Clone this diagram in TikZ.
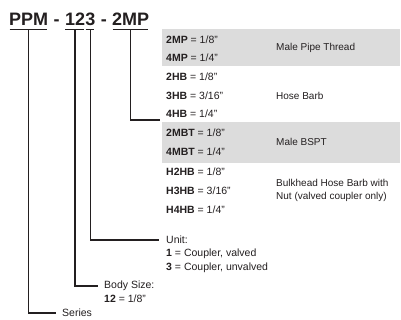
\documentclass[tikz,border=0pt]{standalone}
\usepackage{fontspec}
\setmainfont{Liberation Sans}
\usetikzlibrary{calc}
\definecolor{txt}{HTML}{231F20}
\definecolor{gbox}{HTML}{DCDCDC}
\begin{document}
\begin{tikzpicture}[x=1pt,y=-1pt,
  title/.style={font=\fontsize{18}{18}\selectfont\bfseries, text=txt, inner sep=0pt, anchor=base west},
  cell/.style={font=\fontsize{10.5}{12}\selectfont, text=txt, inner sep=0pt, anchor=west},
  desc/.style={font=\fontsize{10}{13}\selectfont, text=txt, inner sep=0pt, anchor=west, align=left},
  conn/.style={line width=1.4pt, draw=txt},
  graybox/.style={fill=gbox, draw=none, anchor=north west, inner sep=0pt, minimum width=238pt}]
\path[use as bounding box, fill=white] (0,0) rectangle (401,320);

% title
\node[title] (ppm) at (9,26) {PPM};
\node[title] (da) at (ppm.base east) {\ -\ \mbox{}};
\node[title] (n12) at (da.base east) {12};
\node[title] (n3) at (n12.base east) {3};
\node[title] (db) at (n3.base east) {\ -\ \mbox{}};
\node[title] (mp) at (db.base east) {2MP};

\foreach \X in {ppm,n12,n3,mp}{
  \draw[conn] ([xshift=0.5pt,yshift=-3.5pt]\X.base west) -- ([xshift=-1.5pt,yshift=-3.5pt]\X.base east);
  \coordinate (\X U) at ($([yshift=-3.5pt]\X.base west)!0.5!([yshift=-3.5pt]\X.base east)$);
}

% table background
\node[graybox, minimum height=37pt] (g1) at (162,29) {};
\node[graybox, minimum height=41pt] (g2) at (162,122) {};

% table rows
\node[cell] (r1) at (166,40) {\textbf{2MP} = 1/8"};
\node[cell] (r2) at (166,58) {\textbf{4MP} = 1/4"};
\node[cell] (r3) at (166,77) {\textbf{2HB} = 1/8"};
\node[cell] (r4) at (166,96) {\textbf{3HB} = 3/16"};
\node[cell] (r5) at (166,114) {\textbf{4HB} = 1/4"};
\node[cell] (r6) at (166,133) {\textbf{2MBT} = 1/8"};
\node[cell] (r7) at (166,152) {\textbf{4MBT} = 1/4"};
\node[cell] (r8) at (166,172) {\textbf{H2HB} = 1/8"};
\node[cell] (r9) at (166,191) {\textbf{H3HB} = 3/16"};
\node[cell] (r10) at (166,210) {\textbf{H4HB} = 1/4"};

\node[desc] (d1) at (276,48) {Male Pipe Thread};
\node[desc] (d2) at (276,96) {Hose Barb};
\node[desc] (d3) at (276,142) {Male BSPT};
\node[desc] (d4) at (276,190) {Bulkhead Hose Barb with\\Nut (valved coupler only)};

% unit
\node[cell] (unit) at (166,240) {Unit:};
\node[cell] (unit1) at (166,254) {\textbf{1} = Coupler, valved};
\node[cell] (unit3) at (166,268) {\textbf{3} = Coupler, unvalved};

% body size
\node[cell] (body) at (104,286) {Body Size:};
\node[cell] (body2) at (104,299) {\textbf{12} = 1/8"};

% series
\node[cell] (series) at (62,313) {Series};

% connectors
\draw[conn] (ppmU) |- ([xshift=-6pt]series.west);
\draw[conn] (n12U) |- ([xshift=-6pt]body.west);
\draw[conn] (n3U) |- ([xshift=-7pt]unit.west);
\draw[conn] (mpU) |- ([xshift=-2pt,yshift=2pt]g2.north west);
\end{tikzpicture}
\end{document}
